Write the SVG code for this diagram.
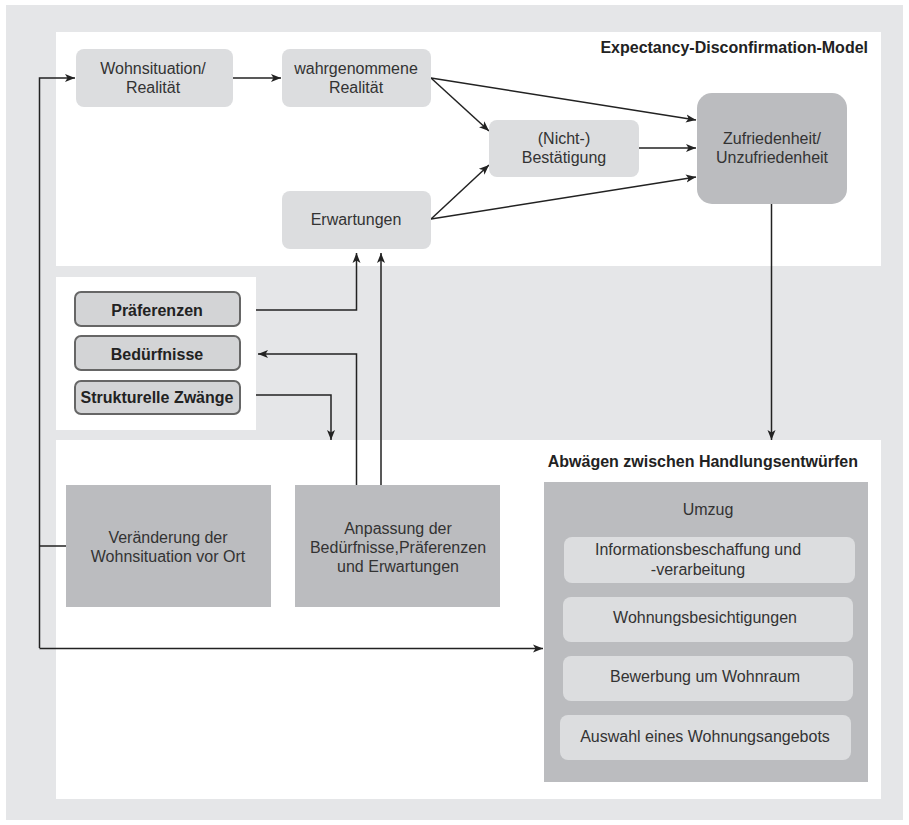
<svg xmlns="http://www.w3.org/2000/svg" width="909" height="825" viewBox="0 0 909 825">
<style>
text{font-family:"Liberation Sans",Arial,sans-serif;font-size:16px;fill:#333;text-anchor:middle}
.b{font-weight:bold;fill:#222}
.t{font-weight:bold;fill:#222;text-anchor:end}
.light{fill:#dcdddf}
.dark{fill:#bbbcbf}
.side{fill:#d3d4d6;stroke:#666;stroke-width:2}
.c{fill:none;stroke:#222;stroke-width:1.5}
</style>
<defs>
<marker id="a" viewBox="0 0 10 10" refX="10" refY="5" markerWidth="10" markerHeight="10" markerUnits="userSpaceOnUse" orient="auto">
<path d="M0,1 L10,5 L0,9 L2.5,5 Z" fill="#222"/>
</marker>
</defs>
<rect x="6" y="5" width="897" height="815" fill="#e5e6e8"/>
<rect x="56" y="32" width="825" height="234" fill="#fff"/>
<rect x="56" y="277" width="200" height="153" fill="#fff"/>
<rect x="56" y="440" width="825" height="359" fill="#fff"/>
<text class="t" x="868" y="53">Expectancy-Disconfirmation-Model</text>
<text class="t" x="858" y="467">Abwägen zwischen Handlungsentwürfen</text>

<g id="connectors">
<path class="c" d="M39.5,648 V78 H75" marker-end="url(#a)"/>
<path class="c" d="M39.5,546 H66"/>
<path class="c" d="M39.5,648.5 H543" marker-end="url(#a)"/>
<path class="c" d="M233,78 H281" marker-end="url(#a)"/>
<path class="c" d="M431,78 L696,120" marker-end="url(#a)"/>
<path class="c" d="M431,78 L489,131" marker-end="url(#a)"/>
<path class="c" d="M431,219 L489,165" marker-end="url(#a)"/>
<path class="c" d="M431,219 L696,177" marker-end="url(#a)"/>
<path class="c" d="M639,148 H696" marker-end="url(#a)"/>
<path class="c" d="M771.5,204 V440" marker-end="url(#a)"/>
<path class="c" d="M256,310 H356.5 V253" marker-end="url(#a)"/>
<path class="c" d="M381,485 V253" marker-end="url(#a)"/>
<path class="c" d="M356.5,485 V354 H258" marker-end="url(#a)"/>
<path class="c" d="M256,395 H331 V440" marker-end="url(#a)"/>
</g>

<g id="wohnsituation"><rect class="light" x="76" y="49" width="157" height="58" rx="8"/><text x="153" y="74">Wohnsituation/</text><text x="153" y="93">Realität</text></g>
<g id="wahrgenommen"><rect class="light" x="282" y="49" width="149" height="58" rx="8"/><text x="356" y="74">wahrgenommene</text><text x="356" y="93">Realität</text></g>
<g id="erwartungen"><rect class="light" x="282" y="191" width="149" height="58" rx="8"/><text x="356" y="225">Erwartungen</text></g>
<g id="bestaetigung"><rect class="light" x="489" y="120" width="150" height="57" rx="8"/><text x="564" y="144">(Nicht-)</text><text x="564" y="163">Bestätigung</text></g>
<g id="zufriedenheit"><rect class="dark" x="697" y="93" width="150" height="111" rx="15"/><text x="772" y="144">Zufriedenheit/</text><text x="772" y="163">Unzufriedenheit</text></g>

<g id="praeferenzen"><rect class="side" x="75" y="292" width="165" height="34" rx="6"/><text class="b" x="157" y="316">Präferenzen</text></g>
<g id="beduerfnisse"><rect class="side" x="75" y="336" width="165" height="34" rx="6"/><text class="b" x="157" y="360">Bedürfnisse</text></g>
<g id="zwaenge"><rect class="side" x="75" y="381" width="165" height="33" rx="6"/><text class="b" x="157" y="403">Strukturelle Zwänge</text></g>

<g id="veraenderung"><rect class="dark" x="66" y="485" width="205" height="122"/><text x="168" y="543">Veränderung der</text><text x="168" y="562">Wohnsituation vor Ort</text></g>
<g id="anpassung"><rect class="dark" x="295" y="485" width="205" height="122"/><text x="398" y="534">Anpassung der</text><text x="398" y="553">Bedürfnisse,Präferenzen</text><text x="398" y="572">und Erwartungen</text></g>

<g id="umzug"><rect class="dark" x="544" y="482" width="324" height="300"/><text x="708" y="515">Umzug</text></g>
<g id="info"><rect class="light" x="564" y="537" width="291" height="46" rx="8"/><text x="698" y="555">Informationsbeschaffung und</text><text x="698" y="575">-verarbeitung</text></g>
<g id="besichtigung"><rect class="light" x="563" y="597" width="290" height="45" rx="8"/><text x="705" y="623">Wohnungsbesichtigungen</text></g>
<g id="bewerbung"><rect class="light" x="563" y="656" width="290" height="45" rx="8"/><text x="705" y="682">Bewerbung um Wohnraum</text></g>
<g id="auswahl"><rect class="light" x="560" y="715" width="291" height="45" rx="8"/><text x="705" y="742">Auswahl eines Wohnungsangebots</text></g>
</svg>
